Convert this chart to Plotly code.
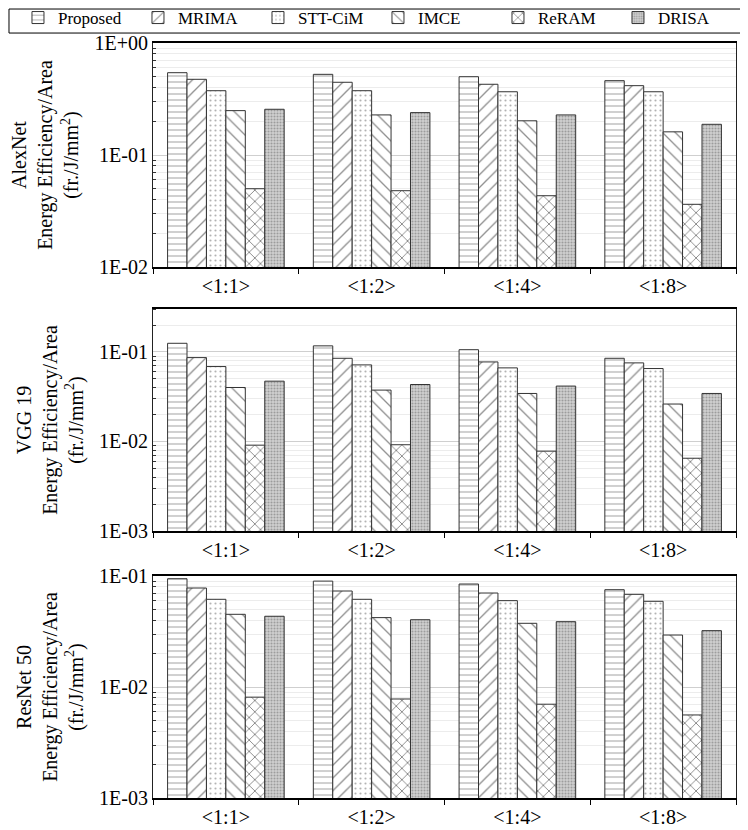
import plotly.graph_objects as go
from plotly.subplots import make_subplots

# --- data ---
ratios = ["<1:1>", "<1:2>", "<1:4>", "<1:8>"]
methods = ["Proposed", "MRIMA", "STT-CiM", "IMCE", "ReRAM", "DRISA"]
networks = ["AlexNet", "VGG 19", "ResNet 50"]

# rows follow `methods`, columns follow `ratios`
alexnet_values = [
    [0.543, 0.525, 0.500, 0.461],
    [0.474, 0.446, 0.428, 0.416],
    [0.375, 0.375, 0.367, 0.367],
    [0.249, 0.228, 0.202, 0.161],
    [0.050, 0.048, 0.0433, 0.0363],
    [0.256, 0.239, 0.228, 0.188],
]
vgg19_values = [
    [0.125, 0.117, 0.106, 0.085],
    [0.0865, 0.085, 0.0774, 0.0755],
    [0.0687, 0.0717, 0.0664, 0.0653],
    [0.0401, 0.0375, 0.0344, 0.0262],
    [0.0091, 0.0092, 0.0078, 0.0065],
    [0.0472, 0.0433, 0.0416, 0.0344],
]
resnet50_values = [
    [0.0946, 0.090, 0.0847, 0.0753],
    [0.078, 0.0733, 0.0703, 0.0684],
    [0.0617, 0.0617, 0.060, 0.0592],
    [0.0452, 0.0422, 0.0375, 0.0294],
    [0.0081, 0.0078, 0.0070, 0.0056],
    [0.0434, 0.0404, 0.0388, 0.0322],
]

alexnet_ticks = [1, 0.1, 0.01]
alexnet_ticktext = ["1E+00", "1E-01", "1E-02"]
vgg19_ticks = [0.1, 0.01, 0.001]
vgg19_ticktext = ["1E-01", "1E-02", "1E-03"]
resnet50_ticks = [0.1, 0.01, 0.001]
resnet50_ticktext = ["1E-01", "1E-02", "1E-03"]

# --- styling ---
FONT = "Liberation Serif, Times New Roman, serif"
patterns = [
    dict(shape="-", fgcolor="#444", bgcolor="white", size=6, solidity=0.17),
    dict(shape="/", fgcolor="#222", bgcolor="white", size=9, solidity=0.15),
    dict(shape=".", fgcolor="#666", bgcolor="white", size=5, solidity=0.15),
    dict(shape="\\", fgcolor="#222", bgcolor="white", size=9, solidity=0.15),
    dict(shape="x", fgcolor="#111", bgcolor="white", size=8, solidity=0.22),
    dict(shape=".", fgcolor="#666", bgcolor="#d2d2d2", size=3, solidity=0.4),
]

# minor gridlines at 2..9 of each decade
minor_vals = [m * 10.0 ** e for e in range(-3, 1) for m in range(2, 10)]

panels = [
    (alexnet_values, alexnet_ticks, alexnet_ticktext, [-2, 0]),
    (vgg19_values, vgg19_ticks, vgg19_ticktext, [-3, -0.52]),
    (resnet50_values, resnet50_ticks, resnet50_ticktext, [-3, -1]),
]

fig = make_subplots(rows=3, cols=1)

for r, (values, tvals, ttext, yrange) in enumerate(panels, start=1):
    for m, name in enumerate(methods):
        fig.add_trace(
            go.Bar(
                x=ratios,
                y=values[m],
                name=name,
                legendgroup=name,
                showlegend=(r == 1),
                marker=dict(color="white", pattern=patterns[m],
                            line=dict(color="#333", width=1)),
            ),
            row=r, col=1,
        )
    fig.update_yaxes(
        type="log", range=yrange, automargin=False,
        tickmode="array", tickvals=tvals, ticktext=ttext,
        showgrid=True, gridcolor="#cfcfcf", gridwidth=1,
        minor=dict(tickmode="array", tickvals=minor_vals, showgrid=True,
                   gridcolor="#ececec", ticks="inside", ticklen=3,
                   tickcolor="#333"),
        showline=True, linecolor="#222", linewidth=1, mirror=True,
        ticks="", zeroline=False,
        tickfont=dict(family=FONT, size=20, color="black"),
        title=dict(text=f"{networks[r-1]}<br>Energy Efficiency/Area<br>(fr./J/mm<sup>2</sup>)",
                   font=dict(family=FONT, size=20, color="black"), standoff=10),
        row=r, col=1,
    )
    fig.update_xaxes(
        type="category", automargin=False,
        tickson="boundaries", ticks="outside", ticklen=5, tickcolor="black",
        showline=True, linecolor="black", linewidth=2, mirror=True,
        showgrid=False,
        tickfont=dict(family=FONT, size=20, color="black"),
        row=r, col=1,
    )

# panel placement (paper coordinates)
fig.update_layout(
    yaxis=dict(domain=[0.7033, 1.0]),
    yaxis2=dict(domain=[0.3536, 0.6477]),
    yaxis3=dict(domain=[0.0, 0.2940]),
)

# frame around the legend (the legend itself is transparent so its padding
# does not hide the top tick label)
fig.add_shape(type="rect", xref="paper", yref="paper",
              x0=-0.2470, x1=1.0154, y0=1.0132, y1=1.0450,
              line=dict(color="black", width=1), fillcolor="rgba(0,0,0,0)")

# the page adds an 8px body margin, so the figure is 8px smaller each way
fig.update_layout(
    width=740, height=822,
    margin=dict(l=145, r=12, t=35, b=32, autoexpand=False),
    barmode="group", bargap=0.2, bargroupgap=0,
    plot_bgcolor="white", paper_bgcolor="white",
    font=dict(family=FONT, color="black"),
    legend=dict(
        orientation="h", x=-0.2316, xanchor="left", y=1.0331, yanchor="middle",
        bgcolor="rgba(0,0,0,0)", borderwidth=0,
        font=dict(family=FONT, size=17, color="black"),
        entrywidth=75, entrywidthmode="pixels", itemwidth=30,
        tracegroupgap=0,
    ),
)

fig.write_html("out.html")
